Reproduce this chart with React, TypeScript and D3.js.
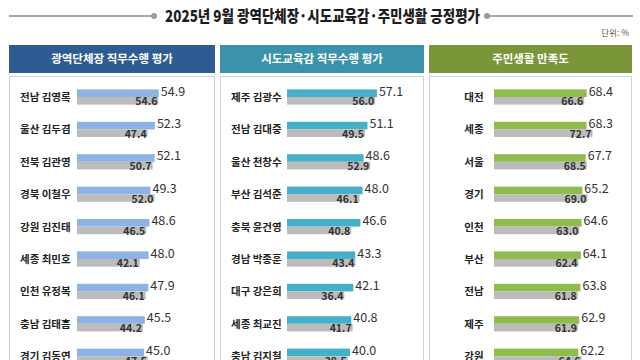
import React from "react";
import * as d3 from "d3";

const title = "2025년 9월 광역단체장·시도교육감·주민생활 긍정평가";
const unitLabel = "단위: %";
const panelTitles = ["광역단체장 직무수행 평가", "시도교육감 직무수행 평가", "주민생활 만족도"];

const leaders = ["전남 김영록", "울산 김두겸", "전북 김관영", "경북 이철우", "강원 김진태", "세종 최민호", "인천 유정복", "충남 김태흠", "경기 김동연"];
const leadersSep = [54.9, 52.3, 52.1, 49.3, 48.6, 48.0, 47.9, 45.5, 45.0];
const leadersPrev = [54.6, 47.4, 50.7, 52.0, 46.5, 42.1, 46.1, 44.2, 47.5];

const edu = ["제주 김광수", "전남 김대중", "울산 천창수", "부산 김석준", "충북 윤건영", "경남 박종훈", "대구 강은희", "세종 최교진", "충남 김지철"];
const eduSep = [57.1, 51.1, 48.6, 48.0, 46.6, 43.3, 42.1, 40.8, 40.0];
const eduPrev = [56.0, 49.5, 52.9, 46.1, 40.8, 43.4, 36.4, 41.7, 38.5];

const regions = ["대전", "세종", "서울", "경기", "인천", "부산", "전남", "제주", "강원"];
const regionSep = [68.4, 68.3, 67.7, 65.2, 64.6, 64.1, 63.8, 62.9, 62.2];
const regionPrev = [66.6, 72.7, 68.5, 69.0, 63.0, 62.4, 61.8, 61.9, 64.6];

const FONT = "'Noto Sans CJK KR', 'Noto Sans', sans-serif";

type PanelCfg = {
  x0: number;
  x1: number;
  header: string;
  headerColor: string;
  barColor: string;
  names: string[];
  sep: number[];
  prev: number[];
  barStart: number;
  pxPerUnit: number;
  labelCenter: boolean;
};

const panels: PanelCfg[] = [
  { x0: 9, x1: 215, header: panelTitles[0], headerColor: "#2f5b93", barColor: "#8db3e6", names: leaders, sep: leadersSep, prev: leadersPrev, barStart: 77, pxPerUnit: 1.49, labelCenter: false },
  { x0: 220, x1: 424, header: panelTitles[1], headerColor: "#3a93ab", barColor: "#45b0c9", names: edu, sep: eduSep, prev: eduPrev, barStart: 287, pxPerUnit: 1.575, labelCenter: false },
  { x0: 429, x1: 632, header: panelTitles[2], headerColor: "#7b9638", barColor: "#8fbd4c", names: regions, sep: regionSep, prev: regionPrev, barStart: 494, pxPerUnit: 1.355, labelCenter: true },
];

const ROW_TOP = 81;
const ROW_STEP = 32.4;
const BAR_H = 7.6;

function Panel({ p }: { p: PanelCfg }) {
  const x = d3.scaleLinear().domain([0, 100]).range([p.barStart, p.barStart + p.pxPerUnit * 100]);
  const y = d3
    .scaleBand<string>()
    .domain(p.names)
    .range([ROW_TOP, ROW_TOP + ROW_STEP * p.names.length])
    .padding(0);
  return (
    <g>
      <rect x={p.x0} y={45} width={p.x1 - p.x0} height={28} fill={p.headerColor} />
      <text x={(p.x0 + p.x1) / 2} y={63} textAnchor="middle" fill="#fff" fontSize={11.5} fontWeight={700} fontFamily={FONT}>
        {p.header}
      </text>
      <rect x={p.x0 + 0.5} y={76.5} width={p.x1 - p.x0 - 1} height={300} fill="#fff" stroke="#c9d3dc" strokeWidth={1} />
      {p.names.map((n, i) => {
        const cy = (y(n) as number) + 16;
        return (
          <g key={n}>
            <text
              x={p.labelCenter ? p.x0 + 45 : p.x0 + 11}
              y={cy + 4}
              textAnchor={p.labelCenter ? "middle" : "start"}
              fontSize={10.5}
              fontWeight={700}
              fill="#222"
              fontFamily={FONT}
            >
              {n}
            </text>
            <rect x={x(0)} y={cy - BAR_H} width={x(p.sep[i]) - x(0)} height={BAR_H} fill={p.barColor} />
            <rect x={x(0)} y={cy} width={x(p.prev[i]) - x(0)} height={BAR_H} fill="#bcbcbc" />
            <text x={x(p.sep[i]) + 2} y={cy - 1.5} fontSize={12.5} fill="#333" fontFamily={FONT}>
              {p.sep[i].toFixed(1)}
            </text>
            <text x={x(p.prev[i]) - 1} y={cy + 8.3} textAnchor="end" fontSize={10.5} fontWeight={700} fill="#333" fontFamily={FONT}>
              {p.prev[i].toFixed(1)}
            </text>
          </g>
        );
      })}
    </g>
  );
}

export default function App() {
  return (
    <div style={{ position: "fixed", left: 0, top: 0, width: 640, height: 360, background: "#fff" }}>
      <svg width={640} height={360} style={{ display: "block" }}>
        <rect width={640} height={360} fill="#fff" />
        <line x1={9} x2={152} y1={16} y2={16} stroke="#8a8a8a" strokeWidth={1.5} />
        <circle cx={154} cy={16} r={3} fill="#9a9a9a" />
        <line x1={487} x2={633} y1={16} y2={16} stroke="#8a8a8a" strokeWidth={1.5} />
        <circle cx={487} cy={16} r={3} fill="#9a9a9a" />
        <text x={322.5} y={21.5} textAnchor="middle" fontSize={16} fontWeight={900} fill="#1e1e1e" fontFamily={FONT} textLength={315} lengthAdjust="spacingAndGlyphs">
          {title}
        </text>
        <text x={629} y={36} textAnchor="end" fontSize={8.5} fill="#555" fontFamily={FONT}>
          {unitLabel}
        </text>
        {panels.map((p) => (
          <Panel key={p.header} p={p} />
        ))}
      </svg>
    </div>
  );
}
